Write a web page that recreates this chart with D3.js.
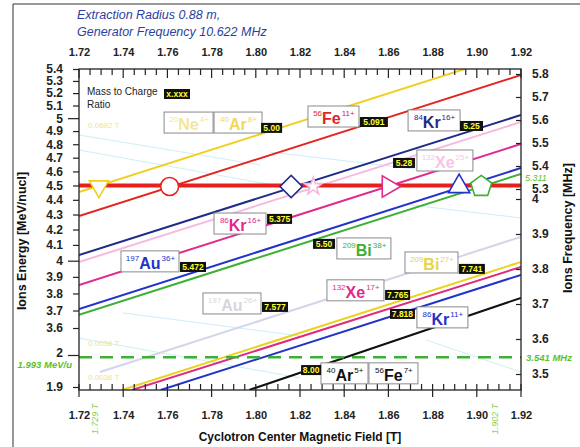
<!DOCTYPE html>
<html><head><meta charset="utf-8">
<script src="https://cdn.jsdelivr.net/npm/d3@7"></script>
<style>body{margin:0;background:#fff}svg{display:block}text{font-family:Arial,"Liberation Sans",sans-serif}</style>
</head><body><svg id="c" width="580" height="447"></svg>
<script>
// ---------------- data ----------------
const fieldTicks = [1.72,1.74,1.76,1.78,1.80,1.82,1.84,1.86,1.88,1.90,1.92];
const energyTicksTop = [3.6,3.7,3.8,3.9,4,4.1,4.2,4.3,4.4,4.5,4.6,4.7,4.8,4.9,5,5.1,5.2,5.3,5.4];
const energyTicksBottom = [1.9,2];
const freqTicksTop = [5.3,5.4,5.5,5.6,5.7,5.8];
const freqTicksBottom = [3.5,3.6,3.7,3.8,3.9,4];

const ionNames   = ["20Ne4+/40Ar8+","56Fe11+","84Kr16+","132Xe25+","86Kr16+","197Au36+","209Bi38+","197Au26+","209Bi27+","132Xe17+","86Kr11+","40Ar5+/56Fe7+"];
const massToCharge = ["5.00","5.091","5.25","5.28","5.375","5.472","5.50","7.577","7.741","7.765","7.818","8.00"];
const startField  = [1.72,1.72,1.72,1.72,1.72,1.72,1.72,1.7295,1.7395,1.744,1.757,1.797];
const startEnergy = [4.454,4.290,4.036,3.992,3.851,3.709,3.675,1.946,1.891,1.891,1.891,1.891];
const endField    = [1.92,1.92,1.92,1.92,1.92,1.92,1.92,1.92,1.92,1.92,1.92,1.92];
const endEnergy   = [5.554,5.349,5.025,4.970,4.802,4.625,4.582,4.152,3.992,3.961,3.912,3.774];

const operatingEnergy = 4.5;      // MeV/u
const operatingFreq = 5.311;      // MHz
const lowEnergy = 1.993;          // MeV/u
const lowFreq = 3.541;            // MHz
const markerField = [1.729,1.761,1.816,1.826,1.860,1.892,1.902];
const fieldMarks = [1.729,1.902];

// faint iso lines (field, energy pairs)
const guideB0 = [1.72,1.72,1.8064,1.8698,1.7399,1.72,1.8769];
const guideE0 = [4.870,4.757,4.742,4.365,3.686,2.055,2.049];
const guideB1 = [1.8019,1.82,1.8834,1.92,1.82,1.82,1.92];
const guideE1 = [4.647,4.469,4.596,4.277,2.062,1.928,1.946];
const guideText = ["0.0692 T","0.0038 T","0.0036 T"];
const guideTextB = [1.7241,1.7241,1.7241];
const guideTextE = [4.947,2.039,1.931];

// ion label annotations
const ionMass = ["20","40","56","84","132","86","197","209","209","197","132","86","40","56"];
const ionEl   = ["Ne","Ar","Fe","Kr","Xe","Kr","Au","Bi","Bi","Au","Xe","Kr","Ar","Fe"];
const ionQ    = ["4+","8+","11+","16+","25+","16+","36+","38+","27+","26+","17+","11+","5+","7+"];

// ---------------- styles / layout ----------------
const lineColors = ["#f2cf1e","#e3241f","#1f2a8a","#f7b9e0","#e02a8c","#2233c8","#3cb034","#d4d4ea","#ead21e","#e02a7c","#2233c8","#111111"];
const ionColors = ["#f3e69a","#efd95a","#e3241f","#1f2a8a","#f7c6e6","#e02a8c","#2233c8","#3cb034","#e8d44a","#d6d6de","#e02a8c","#2233c8","#111111","#111111"];
const ionBoxB = [1.7585,1.7811,1.8236,1.8689,1.8729,1.7811,1.7390,1.8367,1.8675,1.7761,1.8322,1.8729,1.8295,1.8512];
const ionBoxE = [5.048,5.048,5.096,5.065,4.757,4.310,4.062,4.145,4.055,3.803,3.882,3.721,1.975,1.975];
const ionBoxW = [49,48,51,52,56,52,58,54,53,58,57,51,47,49];
const ratioB = [1.8024,1.8471,1.8924,1.8621,1.8051,1.7657,1.8259,1.8028,1.8919,1.8585,1.8607,1.8205];
const ratioE = [4.963,5.009,4.978,4.698,4.304,3.992,4.139,3.750,3.980,3.821,3.709,1.968];
const ratioW = [21,28,23,22,25,26,22,26,26,25,25,20];
const markerColors = ["#f0cf20","#e3241f","#1f2a8a","#f5b8dc","#e02a8c","#2233c8","#3cb034"];
const fieldMarkDx = [-1,17];

const W = 580, H = 447;
const L = 79, R = 521, T = 69, B = 390;
const svg = d3.select("#c");

const x = d3.scaleLinear().domain([1.72,1.92]).range([L,R]);
const yTop = d3.scaleLog().domain([3.6,5.4]).range([328,T]);
const yBot = d3.scaleLog().domain([1.9,2.0]).range([387,355]);
const yE = e => e >= 3 ? yTop(e) : yBot(e);
const fTop = d3.scaleLinear().domain([5.3,5.8]).range([189,74]);
const fBot = d3.scaleLinear().domain([3.5,4.0]).range([374,199]);

// outer border
svg.append("line").attr("x1",13).attr("x2",W).attr("y1",4).attr("y2",4).attr("stroke","#333").attr("stroke-width",1);
svg.append("line").attr("x1",13).attr("x2",13).attr("y1",4).attr("y2",H).attr("stroke","#333").attr("stroke-width",1);

// title
svg.append("text").attr("x",77).attr("y",19).attr("font-size",12.5).attr("font-style","italic").attr("fill","#2b3f9e").text("Extraction Radius 0.88 m,");
svg.append("text").attr("x",77).attr("y",36).attr("font-size",12.5).attr("font-style","italic").attr("fill","#2b3f9e").text("Generator Frequency 10.622 MHz");

// clip
svg.append("clipPath").attr("id","plot").append("rect").attr("x",L).attr("y",T).attr("width",R-L).attr("height",B-T);
const plot = svg.append("g").attr("clip-path","url(#plot)");

// faint guide lines
guideB0.forEach((b,i)=>{
  plot.append("line").attr("x1",x(b)).attr("y1",yE(guideE0[i])).attr("x2",x(guideB1[i])).attr("y2",yE(guideE1[i]))
    .attr("stroke","#c6ecf6").attr("stroke-width",0.9);
});
guideText.forEach((t,i)=>{
  plot.append("text").attr("x",x(guideTextB[i])).attr("y",yE(guideTextE[i])+3).attr("font-size",8).attr("fill","#efe48a").text(t);
});

// ion lines
ionNames.forEach((n,i)=>{
  plot.append("line").attr("x1",x(startField[i])).attr("y1",yE(startEnergy[i]))
    .attr("x2",x(endField[i])).attr("y2",yE(endEnergy[i]))
    .attr("stroke",lineColors[i]).attr("stroke-width",2);
});

// operating energy line
plot.append("line").attr("x1",L).attr("x2",R).attr("y1",yE(operatingEnergy)).attr("y2",yE(operatingEnergy))
  .attr("stroke","#e8201c").attr("stroke-width",4);
// low energy dashed
plot.append("line").attr("x1",L).attr("x2",R).attr("y1",yE(lowEnergy)).attr("y2",yE(lowEnergy))
  .attr("stroke","#3cb034").attr("stroke-width",2.5).attr("stroke-dasharray","13,8");

// frame
svg.append("rect").attr("x",L).attr("y",T).attr("width",R-L).attr("height",B-T).attr("fill","none").attr("stroke","#222").attr("stroke-width",1.3);

const fmt1 = d => Math.abs(d-Math.round(d))<1e-9 ? String(Math.round(d)) : d.toFixed(1);
function styleAxis(g, fs){
  g.select(".domain").remove();
  g.attr("font-size",fs).attr("font-family","Arial, 'Liberation Sans', sans-serif").attr("font-weight","bold").attr("color","#222");
}
// left axis
const la1 = svg.append("g").attr("transform",`translate(${L},0)`)
  .call(d3.axisLeft(yTop).tickValues(energyTicksTop).tickSize(6).tickPadding(10).tickFormat(fmt1));
styleAxis(la1,12);
la1.selectAll(".tick line").attr("x2",d=> (d===5||d===4)?-11:-6).attr("stroke-width",1.2);
const la2 = svg.append("g").attr("transform",`translate(${L},0)`)
  .call(d3.axisLeft(yBot).tickValues(energyTicksBottom).tickSize(6).tickPadding(10).tickFormat(fmt1));
styleAxis(la2,12);
la2.selectAll(".tick line").attr("x2",d=> d===2?-11:-6).attr("stroke-width",1.2);
la2.selectAll(".tick text").attr("dy", d=> d===2 ? "0.1em" : "0.32em");

// right axis
[[fTop,freqTicksTop],[fBot,freqTicksBottom]].forEach(([s,tv])=>{
  const g = svg.append("g").attr("transform",`translate(${R},0)`)
    .call(d3.axisRight(s).tickValues(tv).tickSizeInner(-5).tickSizeOuter(0).tickPadding(11).tickFormat(fmt1));
  styleAxis(g,12);
  g.selectAll(".tick line").attr("stroke-width",1.2);
});

// top and bottom axes
const ta = svg.append("g").attr("transform",`translate(0,${T})`)
  .call(d3.axisTop(x).tickValues(fieldTicks).tickSize(0).tickPadding(13).tickFormat(d=>d.toFixed(2)));
styleAxis(ta,11);
const ba = svg.append("g").attr("transform",`translate(0,${B})`)
  .call(d3.axisBottom(x).tickValues(fieldTicks).tickSize(0).tickPadding(21).tickFormat(d=>d.toFixed(2)));
styleAxis(ba,11);
const isMajor = v => Math.abs((v-1.72)/0.02 - Math.round((v-1.72)/0.02)) < 1e-6;
x.ticks(40).forEach(v=>{
  const mj = isMajor(v);
  svg.append("line").attr("x1",x(v)).attr("x2",x(v)).attr("y1",T).attr("y2",T+(mj?9:6)).attr("stroke","#222").attr("stroke-width",1.2);
  svg.append("line").attr("x1",x(v)).attr("x2",x(v)).attr("y1",B-6).attr("y2",B+(mj?7:0)).attr("stroke","#222").attr("stroke-width",1.2);
});

// axis titles
svg.append("text").attr("transform","translate(26,241) rotate(-90)").attr("text-anchor","middle")
  .attr("font-size",12.5).attr("font-weight","bold").attr("fill","#111").text("Ions Energy [MeV/nucl]");
svg.append("text").attr("transform","translate(572,228) rotate(-90)").attr("text-anchor","middle")
  .attr("font-size",12.5).attr("font-weight","bold").attr("fill","#111").text("Ions Frequency [MHz]");
svg.append("text").attr("x",300).attr("y",441).attr("text-anchor","middle")
  .attr("font-size",12).attr("font-weight","bold").attr("fill","#111").text("Cyclotron Center Magnetic Field [T]");

// green annotations
const green = "#5cc02c";
svg.append("text").attr("x",72).attr("y",yE(lowEnergy)+11).attr("text-anchor","end").attr("font-size",9.5)
  .attr("font-style","italic").attr("font-weight","bold").attr("fill",green).text(lowEnergy.toFixed(3)+" MeV/u");
svg.append("text").attr("x",526).attr("y",fBot(lowFreq)+1).attr("font-size",9.5)
  .attr("font-style","italic").attr("font-weight","bold").attr("fill",green).text(lowFreq.toFixed(3)+" MHz");
svg.append("text").attr("x",525).attr("y",fTop(operatingFreq)-5).attr("font-size",9)
  .attr("font-style","italic").attr("fill",green).text(operatingFreq.toFixed(3));
fieldMarks.forEach((b,i)=>{
  svg.append("text").attr("transform",`translate(${x(b)+fieldMarkDx[i]},419) rotate(-90)`).attr("text-anchor","middle")
    .attr("font-size",9).attr("font-style","italic").attr("fill","#8fd04a").text(b.toFixed(3)+" T");
});

// legend
svg.append("text").attr("x",87).attr("y",95).attr("font-size",10).attr("fill","#222").text("Mass to Charge");
svg.append("text").attr("x",87).attr("y",108).attr("font-size",10).attr("fill","#222").text("Ratio");
svg.append("rect").attr("x",164).attr("y",89).attr("width",26).attr("height",10).attr("fill","#111");
svg.append("text").attr("x",177).attr("y",97).attr("text-anchor","middle").attr("font-size",8.5).attr("font-weight","bold").attr("fill","#ffff33").text("x.xxx");

// ion label boxes
const ann = svg.append("g");
ionEl.forEach((el,i)=>{
  const g = ann.append("g").attr("transform",`translate(${x(ionBoxB[i])},${yE(ionBoxE[i])})`);
  g.append("rect").attr("width",ionBoxW[i]).attr("height",21).attr("fill","#fff").attr("stroke","#8a8a8a").attr("stroke-width",1);
  const t = g.append("text").attr("fill",ionColors[i]).attr("y",18);
  t.append("tspan").attr("font-size",8).attr("dy",-8).text(ionMass[i]);
  t.append("tspan").attr("font-size",16).attr("font-weight","bold").attr("dy",8).text(el);
  t.append("tspan").attr("font-size",8).attr("dy",-8).attr("dx",1).text(ionQ[i]);
  const tw = t.node().getComputedTextLength();
  t.attr("x",(ionBoxW[i]-tw)/2);
});
// ratio boxes
massToCharge.forEach((r,i)=>{
  const g = ann.append("g").attr("transform",`translate(${x(ratioB[i])},${yE(ratioE[i])})`);
  g.append("rect").attr("width",ratioW[i]).attr("height",10).attr("fill","#111");
  g.append("text").attr("x",ratioW[i]/2).attr("y",8.3).attr("text-anchor","middle").attr("font-size",8.5)
    .attr("font-weight","bold").attr("fill","#ffff33").text(r);
});

// markers on operating line
const symbolPentagon = { draw(ctx,size){ const r=Math.sqrt(size/2.3776); for(let k=0;k<5;k++){const a=-Math.PI/2+k*2*Math.PI/5; const px=r*Math.cos(a), py=r*Math.sin(a); if(k===0) ctx.moveTo(px,py); else ctx.lineTo(px,py);} ctx.closePath(); } };
const markerDefs = [
  {type:d3.symbolTriangle,size:160,rot:180},
  {type:d3.symbolCircle,size:254,rot:0},
  {type:d3.symbolSquare,size:250,rot:45},
  {type:d3.symbolStar,size:95,rot:0},
  {type:d3.symbolTriangle,size:195,rot:90},
  {type:d3.symbolTriangle,size:195,rot:0},
  {type:symbolPentagon,size:290,rot:0}
];
markerField.forEach((b,i)=>{
  const m = markerDefs[i];
  svg.append("path").attr("d",d3.symbol().type(m.type).size(m.size)())
    .attr("transform",`translate(${x(b)},${yE(operatingEnergy)+1}) rotate(${m.rot})`)
    .attr("fill","#fff").attr("stroke",markerColors[i]).attr("stroke-width",1.6);
});
</script></body></html>
